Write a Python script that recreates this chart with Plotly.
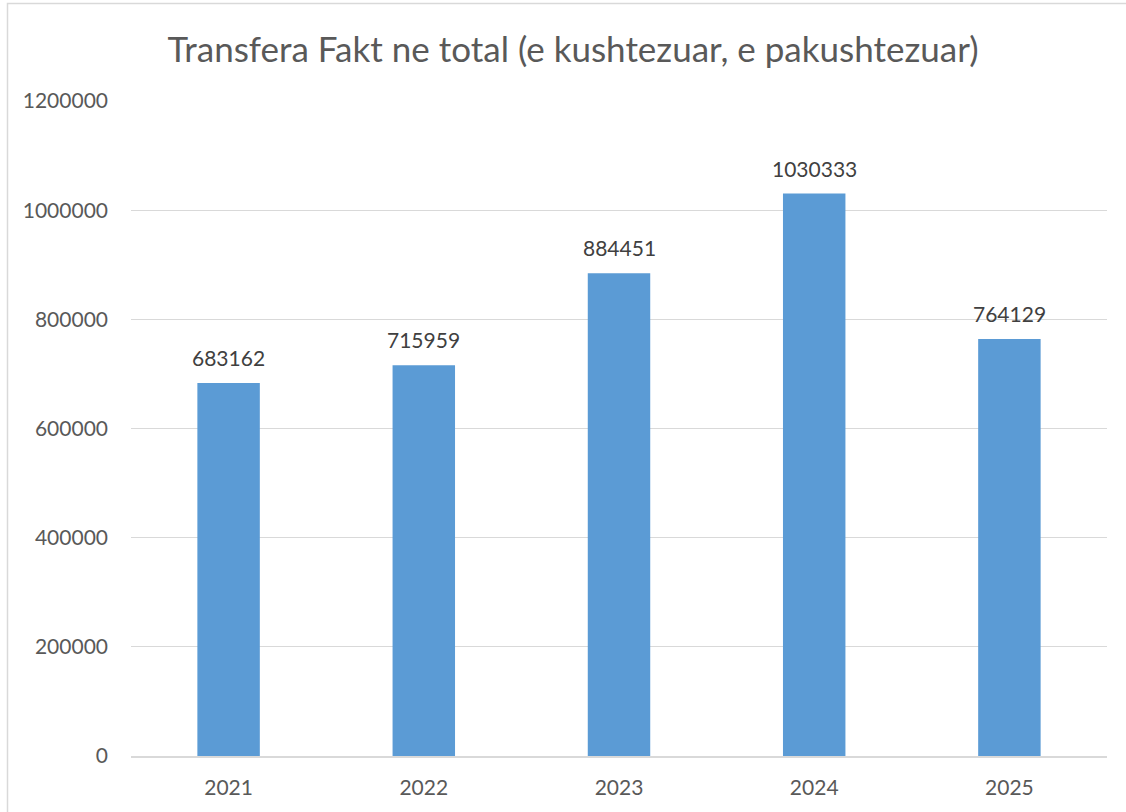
import plotly.graph_objects as go

years = ["2021", "2022", "2023", "2024", "2025"]
values = [683162, 715959, 884451, 1030333, 764129]
title_text = "Transfera Fakt ne total (e kushtezuar, e pakushtezuar)"

FONT = "Lato"
W, H = 1126, 812
L, R, T, B = 131, 19, 101, 56
pw, ph = W - L - R, H - T - B

fig = go.Figure()
fig.add_trace(go.Bar(
    x=years, y=values,
    marker=dict(color="#5B9BD5", line=dict(width=0)),
    hoverinfo="x+y",
))

# data labels (category axis: annotation x is the category index)
for i, v in enumerate(values):
    fig.add_annotation(x=i, y=v, xref="x", yref="y", text=str(v), showarrow=False,
                       yanchor="bottom", yshift=11,
                       font=dict(family=FONT, size=21, color="#404040"))

# chart border: only left and top edges are visible in the crop
bx0 = (7.5 - L) / pw
bx1 = (W + 50 - L) / pw
by0 = -(B + 50) / ph
by1 = (H - B - 3.5) / ph
fig.add_shape(type="path", xref="paper", yref="paper",
              path=f"M {bx0},{by0} L {bx0},{by1} L {bx1},{by1}",
              line=dict(color="#D9D9D9", width=1.5), layer="below")

fig.update_layout(
    width=W, height=H,
    margin=dict(l=L, r=R, t=T, b=B, pad=0),
    paper_bgcolor="white", plot_bgcolor="white",
    bargap=0.68,
    showlegend=False,
    title=dict(text=title_text, x=573 / W, xanchor="center",
               y=1 - 50 / H, yanchor="middle",
               font=dict(family=FONT, size=35, color="#595959")),
    font=dict(family=FONT, size=21, color="#595959"),
)
fig.update_yaxes(range=[0, 1200000], dtick=200000, tickformat="d",
                 showgrid=True, gridcolor="#D9D9D9", gridwidth=1,
                 zeroline=False, showline=False, ticks="",
                 ticklabelstandoff=22,
                 tickfont=dict(family=FONT, size=21, color="#595959"))
fig.update_xaxes(type="category", categoryarray=years, range=[-0.5, len(years) - 0.5],
                 showgrid=False, showline=True,
                 linecolor="#D9D9D9", linewidth=1.5,
                 ticks="", ticklabelstandoff=12,
                 tickfont=dict(family=FONT, size=21, color="#595959"))

fig.write_html("out.html", config={"displayModeBar": False},
               post_script="document.body.style.margin='0';document.body.style.overflow='hidden';")
